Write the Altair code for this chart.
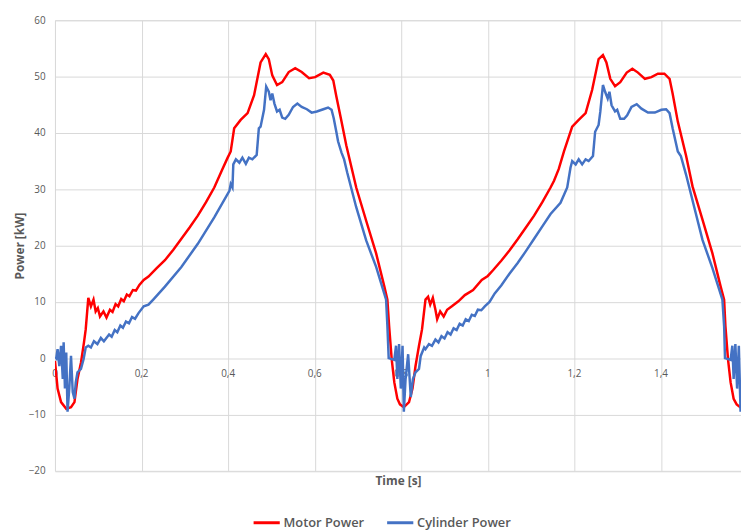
import altair as alt
import pandas as pd

# ---- data (time in s, power in kW) ----
motor_t = [0.000, 0.006, 0.014, 0.026, 0.037, 0.045, 0.052, 0.060, 0.067, 0.071, 0.077, 0.083, 0.089, 0.094, 0.099, 0.104, 0.112, 0.119,
           0.127, 0.133, 0.140, 0.146, 0.153, 0.159, 0.166, 0.172, 0.180, 0.187, 0.195, 0.205, 0.216, 0.235, 0.254, 0.273, 0.292, 0.311,
           0.330, 0.349, 0.368, 0.387, 0.399, 0.406, 0.414, 0.429, 0.445, 0.460, 0.475, 0.487, 0.494, 0.502, 0.513, 0.525, 0.540, 0.555,
           0.570, 0.587, 0.601, 0.620, 0.635, 0.643, 0.650, 0.662, 0.673, 0.696, 0.719, 0.742, 0.761, 0.768, 0.772, 0.778, 0.784, 0.791,
           0.797, 0.806, 0.818, 0.826, 0.833, 0.841, 0.848, 0.856, 0.862, 0.867, 0.873, 0.879, 0.883, 0.890, 0.898, 0.906, 0.917, 0.932,
           0.947, 0.966, 0.986, 1.000, 1.012, 1.031, 1.050, 1.069, 1.088, 1.107, 1.126, 1.145, 1.153, 1.164, 1.176, 1.195, 1.210, 1.226,
           1.241, 1.256, 1.266, 1.274, 1.283, 1.294, 1.306, 1.321, 1.334, 1.347, 1.363, 1.378, 1.393, 1.408, 1.420, 1.427, 1.439, 1.458,
           1.473, 1.496, 1.519, 1.538, 1.546, 1.549, 1.555, 1.561, 1.568, 1.575, 1.583, 1.590]
motor_p = [-0.5, -5.4, -7.8, -9.0, -8.7, -7.8, -3.7, -0.8, 2.8, 5.1, 10.7, 9.2, 10.4, 8.3, 8.9, 7.4, 8.3, 7.2,
           8.6, 8.2, 9.6, 9.2, 10.5, 10.1, 11.3, 11.0, 12.1, 12.0, 13.0, 13.9, 14.5, 16.0, 17.4, 19.2, 21.2, 23.2,
           25.3, 27.7, 30.3, 33.6, 35.6, 36.7, 40.8, 42.3, 43.5, 46.7, 52.5, 54.0, 53.1, 50.2, 48.5, 49.0, 50.8, 51.5,
           50.8, 49.7, 49.9, 50.7, 50.3, 49.3, 46.5, 42.0, 37.8, 30.3, 24.4, 18.6, 12.7, 10.4, 5.7, -0.2, -4.3, -7.2,
           -8.2, -8.7, -7.8, -5.4, -1.4, 2.2, 5.1, 10.4, 10.9, 9.5, 10.7, 8.6, 6.9, 8.3, 7.4, 8.6, 9.2, 10.1,
           11.2, 12.1, 13.9, 14.6, 15.6, 17.3, 19.1, 21.1, 23.2, 25.3, 27.7, 30.3, 31.5, 33.6, 36.7, 41.1, 42.3, 43.5,
           47.6, 53.1, 53.8, 52.5, 49.6, 48.3, 49.0, 50.7, 51.4, 50.7, 49.6, 49.9, 50.5, 50.5, 49.6, 47.0, 42.0, 36.0,
           30.5, 24.6, 18.6, 12.7, 10.4, 5.7, -0.2, -4.3, -7.2, -8.2, -8.7, -8.5]

cyl_t = [0.000, 0.003, 0.006, 0.010, 0.014, 0.018, 0.020, 0.023, 0.026, 0.029, 0.033, 0.037, 0.041, 0.045, 0.048, 0.052, 0.060, 0.066,
         0.071, 0.077, 0.083, 0.090, 0.098, 0.106, 0.113, 0.125, 0.131, 0.138, 0.144, 0.151, 0.157, 0.164, 0.171, 0.178, 0.185, 0.193,
         0.205, 0.216, 0.227, 0.254, 0.292, 0.330, 0.368, 0.403, 0.406, 0.410, 0.412, 0.418, 0.426, 0.433, 0.441, 0.448, 0.456, 0.466,
         0.471, 0.475, 0.479, 0.483, 0.488, 0.494, 0.498, 0.502, 0.507, 0.513, 0.519, 0.525, 0.532, 0.540, 0.550, 0.560, 0.570, 0.582,
         0.593, 0.605, 0.620, 0.631, 0.639, 0.644, 0.650, 0.654, 0.662, 0.668, 0.675, 0.696, 0.719, 0.742, 0.765, 0.768, 0.771, 0.784,
         0.788, 0.791, 0.795, 0.799, 0.803, 0.806, 0.810, 0.816, 0.822, 0.827, 0.833, 0.841, 0.845, 0.853, 0.856, 0.864, 0.871, 0.879,
         0.886, 0.893, 0.900, 0.907, 0.914, 0.921, 0.928, 0.935, 0.942, 0.949, 0.956, 0.963, 0.970, 0.977, 0.985, 0.993, 1.004, 1.016,
         1.031, 1.050, 1.069, 1.088, 1.107, 1.126, 1.145, 1.168, 1.1835, 1.191, 1.195, 1.203, 1.210, 1.218, 1.226, 1.233, 1.243, 1.248,
         1.256, 1.260, 1.266, 1.271, 1.277, 1.281, 1.286, 1.294, 1.299, 1.306, 1.315, 1.322, 1.332, 1.344, 1.355, 1.370, 1.386, 1.401,
         1.412, 1.420, 1.427, 1.439, 1.446, 1.458, 1.477, 1.496, 1.519, 1.542, 1.546, 1.548, 1.561, 1.565, 1.568, 1.572, 1.576, 1.580,
         1.584, 1.588]
cyl_p = [0.3, 0.0, 1.6, -1.4, 2.2, -3.7, 2.8, -5.4, 1.0, -9.5, -5.4, 0.4, -6.0, -7.2, -4.3, -2.5, -1.9, -0.2,
         1.9, 2.2, 1.9, 3.0, 2.5, 3.6, 3.0, 4.2, 3.8, 5.0, 4.6, 5.8, 5.4, 6.5, 6.2, 7.3, 7.0, 8.0,
         9.2, 9.5, 10.4, 12.7, 16.2, 20.3, 25.0, 29.7, 30.9, 30.3, 34.4, 35.3, 34.7, 35.6, 34.5, 35.6, 35.3, 36.1,
         40.8, 41.1, 42.6, 44.1, 48.2, 47.3, 45.8, 47.0, 45.2, 43.8, 44.1, 42.7, 42.5, 43.2, 44.6, 45.2, 44.6, 44.2,
         43.6, 43.8, 44.2, 44.5, 44.1, 42.6, 40.2, 38.5, 36.5, 35.3, 33.0, 26.8, 20.9, 16.2, 10.4, 5.7, 0.0, -0.3,
         2.2, -3.7, 2.5, -5.4, 2.2, -9.5, -3.7, 0.7, -6.9, -3.7, -2.5, -1.9, 0.4, 1.9, 1.6, 2.5, 2.2, 3.3,
         2.8, 3.9, 3.5, 4.6, 4.2, 5.3, 5.0, 6.1, 5.8, 6.9, 6.6, 7.7, 7.5, 8.6, 8.5, 9.2, 10.0, 11.5,
         12.9, 15.0, 16.9, 19.0, 21.2, 23.4, 25.6, 27.6, 30.3, 33.8, 35.0, 34.4, 35.3, 34.4, 35.3, 35.0, 35.9, 40.2,
         41.4, 43.8, 48.5, 47.3, 46.1, 47.3, 44.9, 43.8, 44.1, 42.5, 42.5, 43.1, 44.6, 45.1, 44.3, 43.6, 43.6, 44.1,
         44.2, 43.5, 40.8, 36.7, 35.9, 32.6, 26.8, 21.0, 16.0, 10.4, 5.7, 0.0, -0.3, 2.2, -3.7, 2.5, -5.4, 2.2,
         -9.5, -3.7]

series_names = ["Motor Power", "Cylinder Power"]
series_colors = ["#FF0000", "#4472C4"]

x_ticks = [0, 0.2, 0.4, 0.6, 0.8, 1.0, 1.2, 1.4]
x_tick_labels = ["0", "0,2", "0,4", "0,6", "0,8", "1", "1,2", "1,4"]
y_ticks = [-20, -10, 0, 10, 20, 30, 40, 50, 60]

motor_df = pd.DataFrame({"t": motor_t, "p": motor_p, "s": series_names[0]})
cyl_df = pd.DataFrame({"t": cyl_t, "p": cyl_p, "s": series_names[1]})
tick_df = pd.DataFrame({"t": x_ticks, "p": [0] * len(x_ticks), "lab": x_tick_labels})

GRAY = "#595959"
FONT = "Open Sans"

x_scale = alt.Scale(domain=[0, 1.585], nice=False, zero=False)
y_scale = alt.Scale(domain=[-20, 60], nice=False)
color_scale = alt.Scale(domain=series_names, range=series_colors)

x_enc = alt.X("t:Q", scale=x_scale,
              axis=alt.Axis(values=x_ticks, labels=False, ticks=False, domain=False, grid=True,
                            gridColor="#D9D9D9", title="Time [s]", titleFont=FONT, titleFontSize=12,
                            titleFontWeight="bold", titleColor=GRAY, titlePadding=5))
y_enc = alt.Y("p:Q", scale=y_scale,
              axis=alt.Axis(values=y_ticks, ticks=False, domain=False, grid=True, gridColor="#D9D9D9",
                            labelFont=FONT, labelFontSize=10, labelColor=GRAY, labelPadding=10,
                            title="Power [kW]", titleFont=FONT, titleFontSize=12, titleFontWeight="bold",
                            titleColor=GRAY, titlePadding=2))

labels = alt.Chart(tick_df).mark_text(font=FONT, fontSize=10, color=GRAY, dy=16).encode(
    x=alt.X("t:Q", scale=x_scale), y=alt.Y("p:Q", scale=y_scale), text="lab:N")

legend = alt.Legend(title=None, orient="none", direction="horizontal", legendX=199, legendY=493,
                    symbolType="stroke", symbolSize=700, symbolStrokeWidth=3, labelFont=FONT,
                    labelFontSize=13, labelFontWeight=600, labelColor=GRAY, labelOffset=2, columnPadding=16)

motor_line = alt.Chart(motor_df).mark_line(strokeWidth=2.5, clip=True).encode(
    x=x_enc, y=y_enc, color=alt.Color("s:N", scale=color_scale, legend=legend))
cyl_line = alt.Chart(cyl_df).mark_line(strokeWidth=2.5, clip=True).encode(
    x="t:Q", y="p:Q", color=alt.Color("s:N", scale=color_scale, legend=legend))

chart = alt.layer(labels, motor_line, cyl_line).properties(
    width=693.5, height=455.5,
    autosize=alt.AutoSizeParams(type="none"),
    padding={"left": 47.5, "top": 9.5, "right": 0, "bottom": 59},
).configure_view(stroke=None).configure(background="white")

chart.save("out.html", embed_options={"renderer": "svg", "actions": False})
